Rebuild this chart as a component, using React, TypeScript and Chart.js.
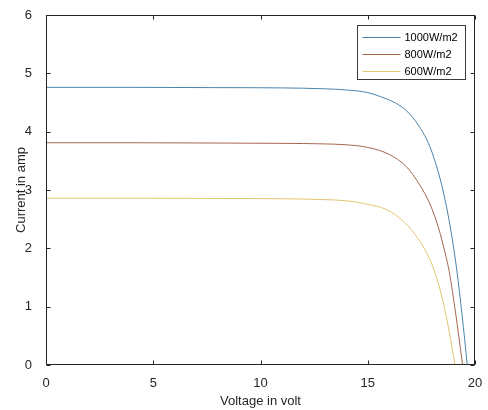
import React, { useEffect, useRef } from 'react';
import { Chart, registerables } from 'chart.js';

Chart.register(...registerables);

const seriesLabels = ['1000W/m2', '800W/m2', '600W/m2'];
const seriesColors = ['#4a83ab', '#a5664c', '#e2c56f'];

const volt1000 = [0, 4, 8, 11, 13, 14, 15, 15.6, 16.3, 16.8, 17.4, 17.9, 18.3, 18.6, 18.9, 19.15, 19.4, 19.64];
const amp1000 = [4.76, 4.76, 4.755, 4.75, 4.735, 4.715, 4.67, 4.6, 4.49, 4.36, 4.09, 3.74, 3.29, 2.84, 2.25, 1.63, 0.85, 0];

const volt800 = [0, 4, 8, 11, 13, 14, 15, 16, 16.8, 17.4, 17.9, 18.3, 18.6, 18.8, 19.1, 19.25, 19.42];
const amp800 = [3.81, 3.81, 3.805, 3.8, 3.79, 3.775, 3.73, 3.61, 3.4, 3.1, 2.76, 2.35, 1.93, 1.6, 0.88, 0.48, 0];

const volt600 = [0, 4, 8, 11, 13, 14, 14.8, 15.9, 16.7, 17.3, 17.75, 18.1, 18.45, 18.7, 18.9, 19.07];
const amp600 = [2.86, 2.86, 2.855, 2.85, 2.835, 2.815, 2.77, 2.66, 2.45, 2.19, 1.92, 1.62, 1.18, 0.76, 0.36, 0];

const xTicks = [0, 5, 10, 15, 20];
const yTicks = [0, 1, 2, 3, 4, 5, 6];
const xTitle = 'Voltage in volt';
const yTitle = 'Current in amp';

const FONT = '"Liberation Sans", Arial, Helvetica, sans-serif';
const AXIS_COLOR = '#262626';

const framePlugin = {
  id: 'matlabFrame',
  afterDraw(chart: any) {
    const ctx = chart.ctx;
    const { left, right, top, bottom } = chart.chartArea;
    const xs = chart.scales.x;
    const ys = chart.scales.y;
    ctx.save();
    ctx.strokeStyle = AXIS_COLOR;
    ctx.lineWidth = 1;
    const L = Math.round(left) + 0.5;
    const R = Math.round(right) - 0.5;
    const T = Math.round(top) + 0.5;
    const B = Math.round(bottom) - 0.5;
    ctx.strokeRect(L, T, R - L, B - T);
    const tl = 4;
    ctx.beginPath();
    xTicks.forEach((v) => {
      const px = Math.round(xs.getPixelForValue(v)) + 0.5;
      ctx.moveTo(px, B);
      ctx.lineTo(px, B - tl);
      ctx.moveTo(px, T);
      ctx.lineTo(px, T + tl);
    });
    yTicks.forEach((v) => {
      const py = Math.round(ys.getPixelForValue(v)) + 0.5;
      ctx.moveTo(L, py);
      ctx.lineTo(L + tl, py);
      ctx.moveTo(R, py);
      ctx.lineTo(R - tl, py);
    });
    ctx.stroke();

    // legend (inside top-right of axes)
    const bw = 108;
    const bh = 54;
    const bx = Math.round(right) - 10 - bw + 0.5;
    const by = Math.round(top) + 10 + 0.5;
    ctx.fillStyle = '#ffffff';
    ctx.fillRect(bx, by, bw, bh);
    ctx.strokeStyle = '#3a3a3a';
    ctx.strokeRect(bx, by, bw, bh);
    ctx.font = '11px ' + FONT;
    ctx.textBaseline = 'middle';
    ctx.textAlign = 'left';
    chart.data.datasets.forEach((ds: any, i: number) => {
      const yy = Math.round(by + 11 + i * 17) + 0.5;
      ctx.strokeStyle = ds.borderColor;
      ctx.beginPath();
      ctx.moveTo(bx + 5, yy);
      ctx.lineTo(bx + 43, yy);
      ctx.stroke();
      ctx.fillStyle = '#000000';
      ctx.fillText(ds.label, bx + 47, yy);
    });
    ctx.restore();
  },
};

function toPoints(xs: number[], ys: number[]) {
  return xs.map((x, i) => ({ x, y: ys[i] }));
}

export default function App() {
  const canvasRef = useRef<HTMLCanvasElement | null>(null);

  useEffect(() => {
    if (!canvasRef.current) return;
    const volts = [volt1000, volt800, volt600];
    const amps = [amp1000, amp800, amp600];
    const chart = new Chart(canvasRef.current, {
      type: 'line',
      data: {
        datasets: seriesLabels.map((label, i) => ({
          label,
          data: toPoints(volts[i], amps[i]),
          borderColor: seriesColors[i],
          backgroundColor: seriesColors[i],
          borderWidth: 1,
          pointRadius: 0,
          fill: false,
          cubicInterpolationMode: 'monotone' as const,
        })),
      },
      options: {
        responsive: false,
        animation: false,
        events: [],
        layout: { padding: { top: 15, right: 13, left: 0, bottom: 0 } },
        plugins: {
          legend: { display: false },
          tooltip: { enabled: false },
        },
        scales: {
          x: {
            type: 'linear',
            min: 0,
            max: 20,
            afterBuildTicks: (scale: any) => {
              scale.ticks = xTicks.map((v) => ({ value: v }));
            },
            afterFit: (scale: any) => {
              scale.height = 45;
            },
            grid: { display: false },
            border: { display: false },
            ticks: {
              color: AXIS_COLOR,
              font: { family: FONT, size: 13 },
              padding: 3,
              maxRotation: 0,
            },
            title: {
              display: true,
              text: xTitle,
              color: AXIS_COLOR,
              font: { family: FONT, size: 13 },
              padding: { top: 0, bottom: 1 },
            },
          },
          y: {
            type: 'linear',
            min: 0,
            max: 6,
            afterBuildTicks: (scale: any) => {
              scale.ticks = yTicks.map((v) => ({ value: v }));
            },
            afterFit: (scale: any) => {
              scale.width = 46;
            },
            grid: { display: false },
            border: { display: false },
            ticks: {
              color: AXIS_COLOR,
              font: { family: FONT, size: 13 },
              padding: 6,
            },
            title: {
              display: true,
              text: yTitle,
              color: AXIS_COLOR,
              font: { family: FONT, size: 13 },
              padding: { top: 14, bottom: 0 },
            },
          },
        },
      },
      plugins: [framePlugin],
    });
    return () => chart.destroy();
  }, []);

  return (
    <div style={{ position: 'absolute', left: 0, top: 0, width: 488, height: 410, background: '#ffffff' }}>
      <canvas ref={canvasRef} width={488} height={410} style={{ display: 'block', width: 488, height: 410 }} />
    </div>
  );
}
